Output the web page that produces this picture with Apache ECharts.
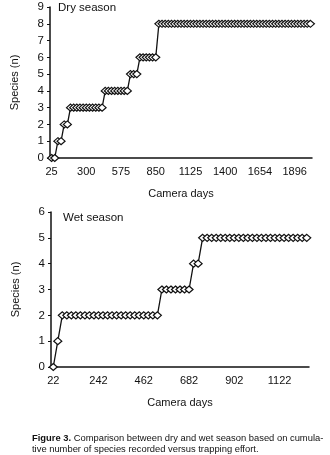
<!DOCTYPE html>
<html>
<head>
<meta charset="utf-8">
<script src="https://cdn.jsdelivr.net/npm/echarts@6/dist/echarts.min.js"></script>
<style>
  html, body { margin: 0; padding: 0; background: #fff; }
  #main { width: 330px; height: 455px; }
</style>
</head>
<body>
<div id="main"></div>
<script>
// camera days (category labels), dry season
const dryDays = [
  25, 50, 75, 100, 125, 150, 175, 200, 225, 250, 275, 300, 325, 350, 375, 400,
  425, 450, 475, 500, 525, 550, 575, 600, 625, 650, 675, 700, 725, 750, 775, 800,
  825, 850, 875, 900, 925, 950, 975, 1000, 1025, 1050, 1075, 1100, 1125, 1150,
  1175, 1200, 1225, 1250, 1275, 1300, 1325, 1350, 1375, 1400, 1423, 1446, 1469,
  1492, 1515, 1538, 1561, 1584, 1607, 1630, 1654, 1676, 1698, 1720, 1742, 1764,
  1786, 1808, 1830, 1852, 1874, 1896, 1918, 1940, 1962, 1984, 2006
];
// cumulative species, dry season
const drySpecies = [
  0, 0, 1, 1, 2, 2, 3, 3, 3, 3, 3, 3, 3, 3, 3, 3, 3, 4, 4, 4, 4, 4, 4, 4, 4,
  5, 5, 5, 6, 6, 6, 6, 6, 6, 8, 8, 8, 8, 8, 8, 8, 8, 8, 8, 8, 8, 8, 8, 8, 8,
  8, 8, 8, 8, 8, 8, 8, 8, 8, 8, 8, 8, 8, 8, 8, 8, 8, 8, 8, 8, 8, 8, 8, 8, 8,
  8, 8, 8, 8, 8, 8, 8, 8
];
// camera days, wet season
const wetDays = [
  22, 44, 66, 88, 110, 132, 154, 176, 198, 220, 242, 264, 286, 308, 330, 352,
  374, 396, 418, 440, 462, 484, 506, 528, 550, 572, 594, 616, 638, 660, 682,
  704, 726, 748, 770, 792, 814, 836, 858, 880, 902, 924, 946, 968, 990, 1012,
  1034, 1056, 1078, 1100, 1122, 1144, 1166, 1188, 1210, 1232, 1254
];
// cumulative species, wet season
const wetSpecies = [
  0, 1, 2, 2, 2, 2, 2, 2, 2, 2, 2, 2, 2, 2, 2, 2, 2, 2, 2, 2, 2, 2, 2, 2,
  3, 3, 3, 3, 3, 3, 3, 4, 4, 5, 5, 5, 5, 5, 5, 5, 5, 5, 5, 5, 5, 5, 5, 5,
  5, 5, 5, 5, 5, 5, 5, 5, 5
];

const font = '"Liberation Sans", Arial, sans-serif';
const ink = '#111';

const xAxisBase = (data, every, g) => ({
  type: 'category',
  gridIndex: g,
  data: data,
  boundaryGap: true,
  name: 'Camera days',
  nameLocation: 'middle',
  nameGap: 30,
  nameTextStyle: { color: ink, fontSize: 11, fontFamily: font },
  axisLine: { lineStyle: { color: ink, width: 1.5 } },
  axisTick: { interval: 0, length: 3, lineStyle: { color: ink, width: 1 } },
  axisLabel: { interval: every, color: ink, fontSize: 11, fontFamily: font, margin: 8 },
  splitLine: { show: false }
});

const yAxisBase = (max, g) => ({
  type: 'value',
  gridIndex: g,
  min: 0,
  max: max,
  interval: 1,
  name: 'Species (n)',
  nameLocation: 'middle',
  nameGap: 30,
  nameTextStyle: { color: ink, fontSize: 11, fontFamily: font },
  axisLine: { show: true, lineStyle: { color: ink, width: 1.5 } },
  axisTick: { show: true, length: 3, lineStyle: { color: ink, width: 1 } },
  axisLabel: { color: ink, fontSize: 11.5, fontFamily: font, margin: 6 },
  splitLine: { show: false }
});

const seriesBase = (data, i) => ({
  type: 'line',
  xAxisIndex: i,
  yAxisIndex: i,
  data: data,
  symbol: 'diamond',
  symbolSize: [8, 7],
  showAllSymbol: true,
  lineStyle: { color: ink, width: 1.3 },
  itemStyle: { color: '#fff', borderColor: ink, borderWidth: 1.2 },
  animation: false
});

const chart = echarts.init(document.getElementById('main'));
chart.setOption({
  animation: false,
  textStyle: { fontFamily: font },
  grid: [
    { left: 50, right: 18, top: 7, height: 151 },
    { left: 51, right: 21, top: 212, height: 155 }
  ],
  xAxis: [xAxisBase(dryDays, 10, 0), xAxisBase(wetDays, 9, 1)],
  yAxis: [yAxisBase(9, 0), yAxisBase(6, 1)],
  series: [seriesBase(drySpecies, 0), seriesBase(wetSpecies, 1)],
  graphic: [
    { type: 'text', left: 58, top: 2, style: { text: 'Dry season', fill: ink, font: '11.5px ' + font } },
    { type: 'text', left: 63, top: 212, style: { text: 'Wet season', fill: ink, font: '11.5px ' + font } },
    {
      type: 'text', left: 32, top: 434,
      style: {
        text: '{b|Figure 3.} Comparison between dry and wet season based on cumula-',
        fill: ink, font: '9.4px ' + font,
        rich: { b: { fontWeight: 'bold', fontSize: 9.4, fontFamily: font } }
      }
    },
    { type: 'text', left: 32, top: 445, style: { text: 'tive number of species recorded versus trapping effort.', fill: ink, font: '9.4px ' + font } }
  ]
});
</script>
</body>
</html>
